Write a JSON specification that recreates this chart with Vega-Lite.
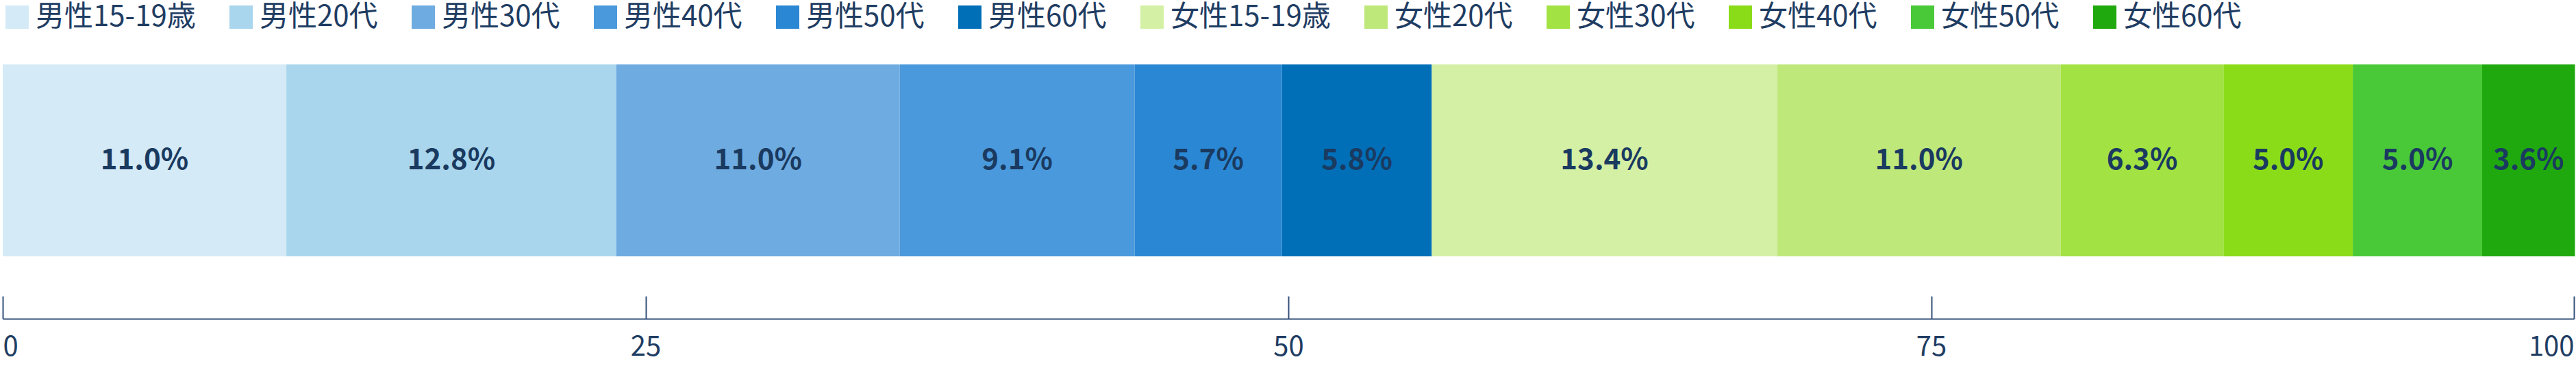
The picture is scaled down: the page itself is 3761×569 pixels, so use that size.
{
  "$schema": "https://vega.github.io/schema/vega-lite/v6.json",
  "width": 3754,
  "height": 280,
  "padding": {"left": 3, "top": 4, "right": 4, "bottom": 0},
  "background": "white",
  "config": {
    "view": {"stroke": null},
    "font": "Noto Sans CJK JP"
  },
  "data": {
    "values": [
      {"idx": 1, "group": "男性15-19歳", "share": 11.03, "label": "11.0%"},
      {"idx": 2, "group": "男性20代", "share": 12.83, "label": "12.8%"},
      {"idx": 3, "group": "男性30代", "share": 11.03, "label": "11.0%"},
      {"idx": 4, "group": "男性40代", "share": 9.13, "label": "9.1%"},
      {"idx": 5, "group": "男性50代", "share": 5.73, "label": "5.7%"},
      {"idx": 6, "group": "男性60代", "share": 5.83, "label": "5.8%"},
      {"idx": 7, "group": "女性15-19歳", "share": 13.43, "label": "13.4%"},
      {"idx": 8, "group": "女性20代", "share": 11.03, "label": "11.0%"},
      {"idx": 9, "group": "女性30代", "share": 6.33, "label": "6.3%"},
      {"idx": 10, "group": "女性40代", "share": 5.03, "label": "5.0%"},
      {"idx": 11, "group": "女性50代", "share": 5.03, "label": "5.0%"},
      {"idx": 12, "group": "女性60代", "share": 3.61, "label": "3.6%"}
    ]
  },
  "transform": [
    {"stack": "share", "groupby": [], "sort": [{"field": "idx", "order": "ascending"}], "as": ["s0", "s1"]},
    {"calculate": "(datum.s0 + datum.s1) / 2", "as": "mid"}
  ],
  "encoding": {
    "y": {"datum": "all", "type": "nominal", "axis": null, "scale": {"paddingInner": 0, "paddingOuter": 0}}
  },
  "layer": [
    {
      "mark": {"type": "bar"},
      "encoding": {
        "x": {
          "field": "s0",
          "type": "quantitative",
          "scale": {"domain": [0, 100], "nice": false},
          "axis": {
            "values": [0, 25, 50, 75, 100],
            "title": null,
            "grid": false,
            "offset": 91,
            "domainColor": "#34507a",
            "domainWidth": 2,
            "tickColor": "#34507a",
            "tickWidth": 2,
            "tickSize": -33,
            "labelFontSize": 40,
            "labelColor": "#1f3d63",
            "labelPadding": 54,
            "labelFlush": true
          }
        },
        "x2": {"field": "s1"},
        "color": {
          "field": "group",
          "type": "nominal",
          "scale": {
            "domain": ["男性15-19歳", "男性20代", "男性30代", "男性40代", "男性50代", "男性60代", "女性15-19歳", "女性20代", "女性30代", "女性40代", "女性50代", "女性60代"],
            "range": ["#d4eaf6", "#a9d6ec", "#6eabe0", "#4a99dc", "#2a87d4", "#006fb8", "#d4f0a4", "#bfe87a", "#a2e242", "#8bdc18", "#49c938", "#20a90e"]
          },
          "legend": {
            "orient": "top",
            "direction": "horizontal",
            "title": null,
            "offset": 48,
            "symbolType": "square",
            "symbolSize": 1156,
            "symbolStrokeWidth": 0,
            "symbolOpacity": 1,
            "labelFontSize": 42,
            "labelColor": "#1f3d63",
            "labelOffset": 6,
            "columnPadding": 45,
            "labelLimit": 400
          }
        }
      }
    },
    {
      "mark": {"type": "text", "fontSize": 42, "fontWeight": "bold", "color": "#1a3a60"},
      "encoding": {
        "x": {"field": "mid", "type": "quantitative"},
        "text": {"field": "label", "type": "nominal"}
      }
    }
  ]
}
